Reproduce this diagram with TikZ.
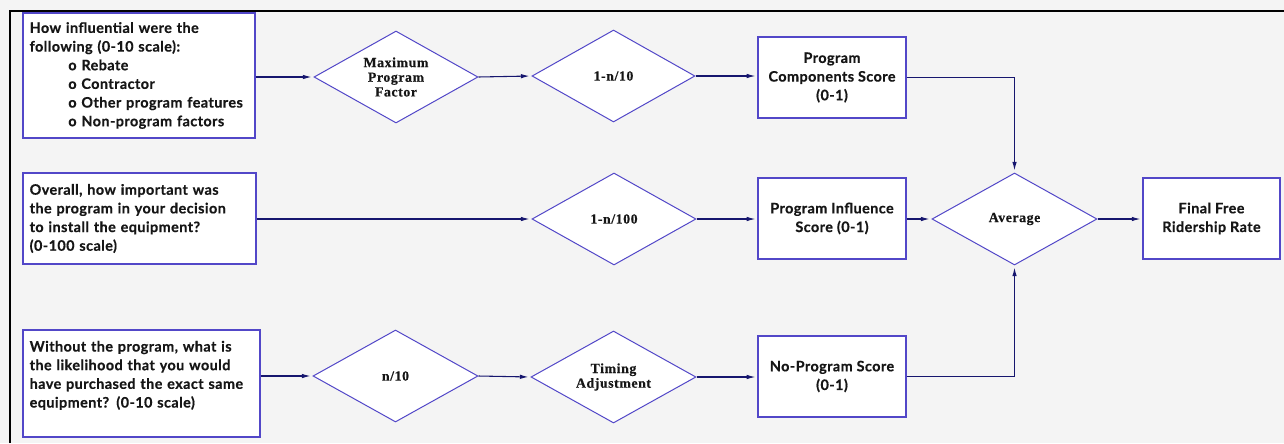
\documentclass[tikz,border=0pt]{standalone}
\usepackage{fontspec}
\setmainfont{Lato}
\newfontfamily\diafont{Liberation Serif}[LetterSpace=4, BoldFeatures={FakeBold=0.4}]
\newfontfamily\boxfont{Lato}[LetterSpace=3, BoldFeatures={FakeBold=0.5}]
\usetikzlibrary{shapes.geometric,arrows.meta}
\definecolor{bgc}{HTML}{F4F4F4}
\definecolor{boxc}{HTML}{5247C8}
\definecolor{linec}{HTML}{16166E}
\definecolor{txtc}{HTML}{161616}
\tikzset{
  qbox/.style={draw=boxc, line width=0.9pt, fill=white, text=txtc, align=left,
    inner xsep=5pt, inner ysep=0pt, font=\boxfont\bfseries\fontsize{10.8}{14}\selectfont},
  sbox/.style={draw=boxc, line width=0.9pt, fill=white, text=txtc, align=center,
    inner sep=0pt, minimum width={148*0.75pt}, minimum height={81*0.75pt},
    font=\boxfont\bfseries\fontsize{10.8}{14}\selectfont},
  dia/.style={diamond, draw=boxc, line width=0.75pt, fill=white, text=txtc, align=center,
    inner sep=0pt, aspect=1.78, minimum width={164*0.75pt}, minimum height={92*0.75pt},
    font=\diafont\bfseries\fontsize{10.4}{11}\selectfont},
  conn/.style={draw=linec, line width=0.8pt},
  arr/.style={conn, -{Latex[length=6.5pt,width=3.4pt]}, shorten >=1.5pt}
}
\begin{document}
\begin{tikzpicture}[x=0.75pt,y=-0.75pt]
\useasboundingbox (0,0) rectangle (1284,443);
\fill[bgc] (0,0) rectangle (1284,443);
\draw[black, line width=2.2pt] (10,443) -- (10,11) -- (1284,11);

% left question boxes
\node[qbox, text width={232*0.75pt-10pt}, minimum height={125*0.75pt}] (q1) at (139,75.5)
  {How influential were the\\
   following (0-10 scale):\\
   \hspace*{29pt}o Rebate\\
   \hspace*{29pt}o Contractor\\
   \hspace*{29pt}o Other program features\\
   \hspace*{29pt}o Non-program factors};
\node[qbox, text width={233*0.75pt-10pt}, minimum height={91*0.75pt}] (q2) at (139.5,218.5)
  {Overall, how important was\\
   the program in your decision\\
   to install the equipment?\\
   (0-100 scale)};
\node[qbox, text width={237*0.75pt-10pt}, minimum height={107*0.75pt}] (q3) at (141.5,383.5)
  {Without the program, what is\\
   the likelihood that you would\\
   have purchased the exact same\\
   equipment? (0-10 scale)\\
   \mbox{}};

% diamonds
\node[dia] (mpf) at (396,77) {Maximum\\Program\\Factor};
\node[dia, minimum width={163*0.75pt}] (d10) at (613.5,76) {1-n/10};
\node[dia] (d100) at (614,219) {1-n/100};
\node[dia, minimum width={165*0.75pt}] (n10) at (395.5,376) {n/10};
\node[dia, minimum width={165*0.75pt}] (tim) at (613.5,377) {Timing\\Adjustment};
\node[dia, minimum width={165*0.75pt}] (avg) at (1014.5,219) {Average};

% score boxes
\node[sbox] (pcs) at (832,77.5) {Program\\Components Score\\(0-1)};
\node[sbox] (pis) at (832,218.5) {Program Influence\\Score (0-1)};
\node[sbox] (nps) at (832,376.5) {No-Program Score\\(0-1)};
\node[sbox, minimum width={137*0.75pt}] (fin) at (1211.5,218.5) {Final Free\\Ridership Rate};

% connectors
\draw[arr] (mpf.west -| q1.east) -- (mpf.west);
\draw[arr] (mpf.east) -- (d10.west);
\draw[arr] (d10.east) -- (d10.east -| pcs.west);
\draw[arr] (pcs.east) -- (avg.north |- pcs.east) -- (avg.north);

\draw[arr] (d100.west -| q2.east) -- (d100.west);
\draw[arr] (d100.east) -- (d100.east -| pis.west);
\draw[arr] (avg.west -| pis.east) -- (avg.west);
\draw[arr] (avg.east) -- (avg.east -| fin.west);

\draw[arr] (n10.west -| q3.east) -- (n10.west);
\draw[arr] (n10.east) -- (tim.west);
\draw[arr] (tim.east) -- (tim.east -| nps.west);
\draw[arr] (nps.east) -- (avg.south |- nps.east) -- (avg.south);
\end{tikzpicture}
\end{document}
